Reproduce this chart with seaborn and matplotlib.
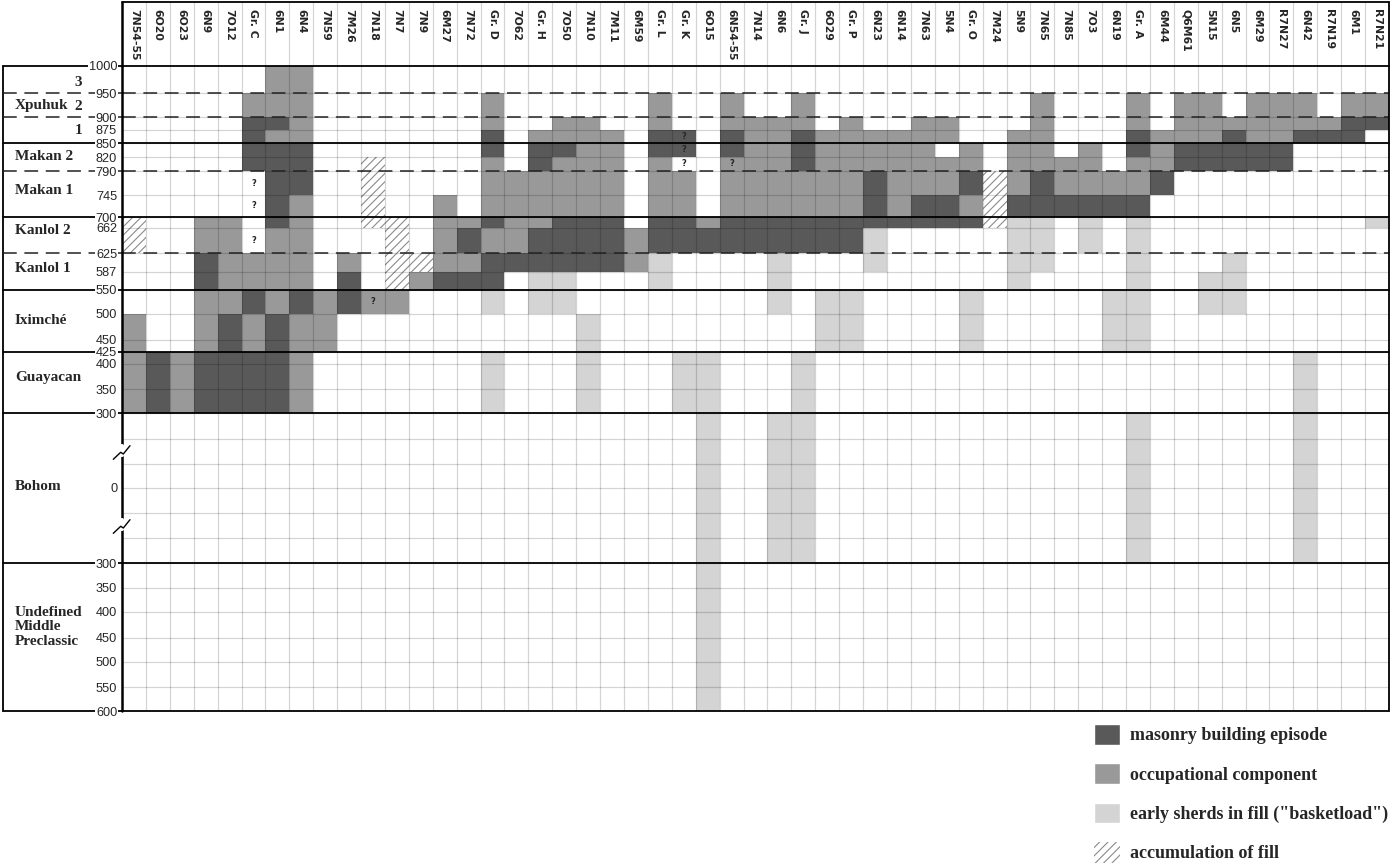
import numpy as np
import matplotlib
matplotlib.use("Agg")
import matplotlib.pyplot as plt
from matplotlib.colors import ListedColormap
from matplotlib.patches import Rectangle, Patch
import seaborn as sns

sns.set_style("white")

# Sites (columns), left to right
sites = ["7N54-55", "6O20", "6O23", "6N9", "7O12", "Gr. C", "6N1", "6N4", "7N59", "7M26",
         "7N18", "7N7", "7N9", "6M27", "7N72", "Gr. D", "7O62", "Gr. H", "7O50", "7N10",
         "7M11", "6M59", "Gr. L", "Gr. K", "6O15", "6N54-55", "7N14", "6N6", "Gr. J", "6O29",
         "Gr. P", "6N23", "6N14", "7N63", "5N4", "Gr. O", "7M24", "5N9", "7N65", "7N85",
         "7O3", "6N19", "Gr. A", "6M44", "Q6M61", "5N15", "6N5", "6M29", "R7N27", "6N42",
         "R7N19", "6M1", "R7N21"]

# Per site, one char per time row (top to bottom), grouped by phase:
# Xpuhuk(4) Makan(4) Kanlol(4) Iximche(3) Guayacan(3) Bohom(6) Undefined MP(6)
# M = masonry building episode, O = occupational component,
# E = early sherds in fill, H = accumulation of fill, . = nothing
cells = [
    ".... .... HH.. .OO OOO ...... ......",  # 7N54-55
    ".... .... .... ... MMM ...... ......",  # 6O20
    ".... .... .... ... OOO ...... ......",  # 6O23
    ".... .... OOMM OOO MMM ...... ......",  # 6N9
    ".... .... OOOO OMM MMM ...... ......",  # 7O12
    ".OMM MM.. ..OO MOO MMM ...... ......",  # Gr. C
    "OOMO MMMM MOOO OMM MMM ...... ......",  # 6N1
    "OOOO MMMO OOOO MOO OOO ...... ......",  # 6N4
    ".... .... .... OOO ... ...... ......",  # 7N59
    ".... .... ..OM M.. ... ...... ......",  # 7M26
    ".... .HHH H... O.. ... ...... ......",  # 7N18
    ".... .... HHHH O.. ... ...... ......",  # 7N7
    ".... .... ..HO ... ... ...... ......",  # 7N9
    ".... ...O OOOM ... ... ...... ......",  # 6M27
    ".... .... OMOM ... ... ...... ......",  # 7N72
    ".OOM MOOO MOMM E.. EEE ...... ......",  # Gr. D
    ".... ..OO OOM. ... ... ...... ......",  # 7O62
    "...O MMOO OMME E.. ... ...... ......",  # Gr. H
    "..OO MOOO MMME E.. ... ...... ......",  # 7O50
    "..OO OOOO MMM. .EE EEE ...... ......",  # 7N10
    "...O OOOO MMM. ... ... ...... ......",  # 7M11
    ".... .... .OO. ... ... ...... ......",  # 6M59
    ".OOM MOOO MMEE ... ... ...... ......",  # Gr. L
    "...M M.OO MM.. ... EEE ...... ......",  # Gr. K
    ".... .... OM.. ... EEE EEEEEE EEEEEE",  # 6O15
    ".OOM MOOO MM.. ... ... ...... ......",  # 6N54-55
    "..OO OOOO MM.. ... ... ...... ......",  # 7N14
    "..OO OOOO MMEE E.. ... EEEEEE ......",  # 6N6
    ".OOM MMOO MM.. ... EEE EEEEEE ......",  # Gr. J
    "...O OOOO MM.. EEE ... ...... ......",  # 6O29
    "..OO OOOO MM.. EEE ... ...... ......",  # Gr. P
    "...O OOMM MEE. ... ... ...... ......",  # 6N23
    "...O OOOO M... ... ... ...... ......",  # 6N14
    "..OO OOOM M... ... ... ...... ......",  # 7N63
    "..OO .OOM M... ... ... ...... ......",  # 5N4
    ".... OOMO M... EEE ... ...... ......",  # Gr. O
    ".... ..HH H... ... ... ...... ......",  # 7M24
    "...O OOOM EEEE ... ... ...... ......",  # 5N9
    ".OOO OOMM EEE. ... ... ...... ......",  # 7N65
    ".... .OOM .... ... ... ...... ......",  # 7N85
    ".... OOOM EE.. ... ... ...... ......",  # 7O3
    ".... ..OM .... EEE ... ...... ......",  # 6N19
    ".OOM MOOM EEEE EEE ... EEEEEE ......",  # Gr. A
    "...O OOM. .... ... ... ...... ......",  # 6M44
    ".OOO MM.. .... ... ... ...... ......",  # Q6M61
    ".OOO MM.. ...E E.. ... ...... ......",  # 5N15
    "..OM MM.. ..EE E.. ... ...... ......",  # 6N5
    ".OOO MM.. .... ... ... ...... ......",  # 6M29
    ".OOO MM.. .... ... ... ...... ......",  # R7N27
    ".OOM .... .... ... EEE EEEEEE ......",  # 6N42
    "..OM .... .... ... ... ...... ......",  # R7N19
    ".OMM .... .... ... ... ...... ......",  # 6M1
    ".OM. .... E... ... ... ...... ......",  # R7N21
]

# uncertain cells marked with "?"
question_marks = [("Gr. C", 6), ("Gr. C", 7), ("Gr. C", 9), ("7N18", 12),
                  ("Gr. K", 3), ("Gr. K", 4), ("Gr. K", 5), ("6N54-55", 5)]

# date labels on the row edges
edge_labels = ["1000", "950", "900", "875", "850", "820", "790", "745", "700", "662",
               "625", "587", "550", "500", "450", "425", "400", "350", "300",
               "", "", "0", "", "", "300", "350", "400", "450", "500", "550", "600"]

# phase names with their vertical anchor (px below grid top)
phase_labels = [("Xpuhuk", 40), ("Makan 2", 91), ("Makan 1", 125), ("Kanlol 2", 164),
                ("Kanlol 1", 203), ("Iximché", 255), ("Guayacan", 312), ("Bohom", 421),
                ("Undefined\nMiddle\nPreclassic", 561)]
subphase_labels = [("3", 17), ("2", 40), ("1", 65)]

legend_labels = ["masonry building episode", "occupational component",
                 'early sherds in fill ("basketload")', "accumulation of fill"]

# ---- layout ----
W, H = 1400, 866
row_heights = [27, 24, 13, 13, 14, 14, 24, 22, 11, 25, 19, 18, 24, 26, 12,
               12, 25, 24, 26, 25, 24, 25, 25, 25, 25, 24, 26, 24, 25, 24]
solid_edges = [0, 4, 8, 12, 15, 18, 24, 30]
dashed_edges = [1, 2, 6, 10]
break_rows = [19, 22]

dark, mid, light = "#595959", "#999999", "#d4d4d4"
hatch_col = "#8a8a8a"
plt.rcParams["hatch.linewidth"] = 0.8

edges = np.concatenate([[0], np.cumsum(row_heights)])
n_sites = len(sites)

codes = {".": 0, "H": 0, "E": 1, "O": 2, "M": 3}
grid = np.array([[codes[ch] for ch in col.replace(" ", "")] for col in cells]).T
expanded = np.repeat(grid, row_heights, axis=0)

fig = plt.figure(figsize=(W / 100, H / 100), dpi=100)
gx0, gx1, gy0, gy1 = 122, 1389, 66, 711

# left panel with phase names
ax_left = fig.add_axes([3 / W, (H - gy1) / H, (gx0 - 3) / W, (gy1 - gy0) / H])
ax_left.set_xlim(0, 1)
ax_left.set_ylim(edges[-1], 0)
ax_left.axis("off")
ax_left.axvline(0, color="k", lw=1.3, clip_on=False)
for e in solid_edges:
    ax_left.axhline(edges[e], color="k", lw=1.3, clip_on=False)
for e in dashed_edges:
    ax_left.axhline(edges[e], color="#222222", lw=1.1, ls=(0, (9, 5)))
serif = dict(family="Liberation Serif", weight="bold", fontsize=11)
for name, y in phase_labels:
    ax_left.text(0.10, y, name, ha="left", va="center", linespacing=1.15, **serif)
for name, y in subphase_labels:
    ax_left.text(0.665, y, name, ha="right", va="center", **serif)

# main grid
ax = fig.add_axes([gx0 / W, (H - gy1) / H, (gx1 - gx0) / W, (gy1 - gy0) / H])
sns.heatmap(expanded, ax=ax, cmap=ListedColormap(["white", light, mid, dark]),
            vmin=-0.5, vmax=3.5, cbar=False, xticklabels=False, yticklabels=False)

for c, col in enumerate(cells):
    for r, ch in enumerate(col.replace(" ", "")):
        if ch == "H":
            ax.add_patch(Rectangle((c, edges[r]), 1, row_heights[r], facecolor="white",
                                   edgecolor=hatch_col, lw=0, hatch="////", zorder=2))

ax.vlines(np.arange(1, n_sites), 0, edges[-1], colors="k", alpha=0.17, lw=0.9, zorder=3)
ax.hlines(edges[1:-1], 0, n_sites, colors="k", alpha=0.17, lw=0.9, zorder=3)
for e in solid_edges:
    ax.axhline(edges[e], color="k", lw=1.3, zorder=4, clip_on=False)
for e in dashed_edges:
    ax.axhline(edges[e], color="#222222", lw=1.1, ls=(0, (9, 5)), zorder=4)
ax.axvline(0, color="k", lw=1.8, zorder=5, clip_on=False)
ax.axvline(n_sites, color="k", lw=1.3, zorder=5, clip_on=False)

# axis break marks in Bohom
px = n_sites / (gx1 - gx0)
for r in break_rows:
    ym = (edges[r] + edges[r + 1]) / 2
    ax.plot([0, 0], [ym - 5.5, ym + 3.5], color="white", lw=3, zorder=6, clip_on=False)
    ax.plot(np.array([-8.7, -1.3, 1.3, 8.0]) * px, ym + np.array([7.8, 0.8, 2.5, -5.8]),
            color="k", lw=1.0, zorder=7, clip_on=False)

for s, r in question_marks:
    ax.text(sites.index(s) + 0.5, (edges[r] + edges[r + 1]) / 2, "?", ha="center",
            va="center", fontsize=6, fontweight="bold", zorder=6)

ax.set_yticks(edges)
ax.set_yticklabels(edge_labels, family="Liberation Sans", fontsize=9.2)
ax.tick_params(axis="y", length=0, pad=3.5, left=True, labelleft=True)
for t in ax.get_yticklabels():
    t.set_bbox(dict(facecolor="white", edgecolor="none", pad=0.6))
ax.set_xticks([])

# header with site names
ax_top = fig.add_axes([gx0 / W, (H - gy0) / H, (gx1 - gx0) / W, (gy0 - 2) / H])
ax_top.set_xlim(0, n_sites)
ax_top.set_ylim(0, 1)
ax_top.axis("off")
ax_top.vlines(np.arange(1, n_sites), 0, 1, colors="k", alpha=0.17, lw=0.9)
ax_top.axvline(0, color="k", lw=1.8, clip_on=False)
ax_top.axvline(n_sites, color="k", lw=1.3, clip_on=False)
ax_top.axhline(1, color="k", lw=1.3, clip_on=False)
for i, s in enumerate(sites):
    ax_top.text(i + 0.5, 0.89, s, rotation=-90, ha="center", va="top",
                family="DejaVu Sans", fontweight="bold", fontsize=7.8)

# legend
handles = [Patch(facecolor=dark), Patch(facecolor=mid), Patch(facecolor=light),
           Patch(facecolor="white", edgecolor=hatch_col, lw=0, hatch="////")]
fig.legend(handles, legend_labels, loc="upper left", bbox_to_anchor=(1094 / W, 1 - 724 / H),
           frameon=False, borderpad=0, borderaxespad=0, handlelength=1.45,
           handleheight=1.4, labelspacing=1.02, handletextpad=0.55,
           prop=dict(family="Liberation Serif", weight="bold", size=13))

fig.savefig("out.png", dpi=100)
